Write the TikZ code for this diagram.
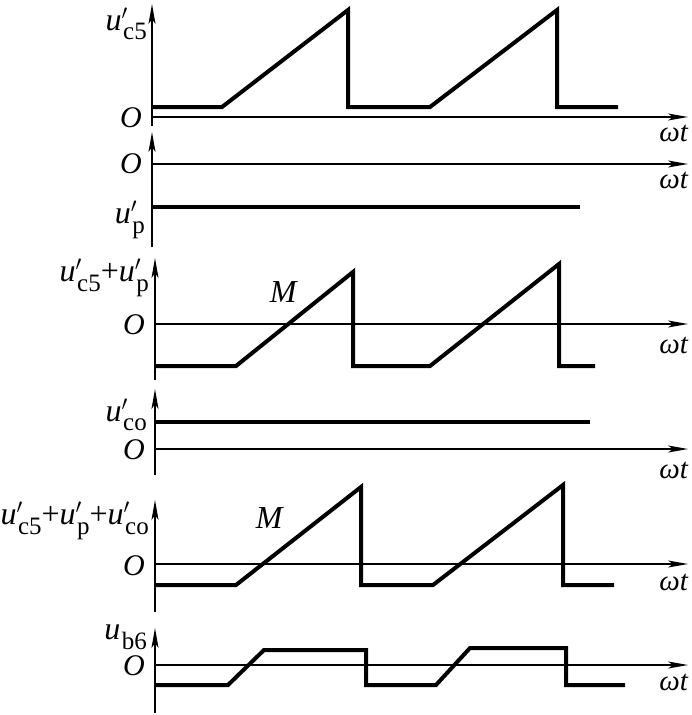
\documentclass[tikz,border=0pt]{standalone}
\usepackage{fontspec}
\setmainfont{Liberation Serif}
\usetikzlibrary{arrows.meta}
\newcommand{\lbl}[3]{\textit{#1}\rlap{#2}\kern1.5pt\raisebox{-0.3em}{\fontsize{25}{25}\selectfont #3}}
\newcommand{\pr}{\raisebox{0.05em}{$^{\prime}$}}
\begin{document}
\begin{tikzpicture}[x=1pt,y=-1pt,
  axis/.style={line width=1.5pt,-{Stealth[length=20pt,width=7pt,inset=5pt]}},
  wave/.style={line width=4pt},
  lab/.style={inner sep=0pt,font=\fontsize{32}{34}\selectfont},
  olab/.style={inner sep=0pt,font=\fontsize{30}{32}\selectfont},
  wlab/.style={inner sep=0pt,font=\fontsize{29}{32}\selectfont},
]
\useasboundingbox (0,0) rectangle (691,715);

% ---------- panel 1 ----------
\draw[axis] (152,126) -- (152,4);
\draw[axis] (152,117) -- (688,117);
\draw[wave] (152,107) -- (222,107) -- (348,10) -- (348,107) -- (430,107) -- (557,10) -- (557,107) -- (618,107);
\node[lab,anchor=east] (l1) at (147,24) {\lbl{u}{\pr}{c5}};
\node[olab,anchor=east] (o1) at (142,118) {\textit{O}};
\node[wlab] (w1) at (674,133) {\textit{ωt}};

% ---------- panel 2 ----------
\draw[axis] (152,247) -- (152,132);
\draw[axis] (152,164) -- (688,164);
\draw[wave] (152,207) -- (580,207);
\node[olab,anchor=east] (o2) at (142,164) {\textit{O}};
\node[lab,anchor=east] (l2) at (145,220) {\lbl{u}{\pr}{p}};
\node[wlab] (w2) at (674,180) {\textit{ωt}};

% ---------- panel 3 ----------
\draw[axis] (155,380) -- (155,258);
\draw[axis] (155,324) -- (688,324);
\draw[wave] (155,366) -- (236,366) -- (353,272) -- (353,366) -- (430,366) -- (559,264) -- (559,366) -- (595,366);
\node[lab,anchor=east] (l3) at (149,278) {\lbl{u}{\pr}{c5}+\lbl{u}{\pr}{p}};
\node[lab] (m3) at (284,292) {\textit{M}};
\node[olab,anchor=east] (o3) at (145,325) {\textit{O}};
\node[wlab] (w3) at (674,345) {\textit{ωt}};

% ---------- panel 4 ----------
\draw[axis] (155,475) -- (155,389);
\draw[wave] (155,422) -- (590,422);
\draw[axis] (155,449) -- (688,449);
\node[lab,anchor=east] (l4) at (147,415) {\lbl{u}{\pr}{co}};
\node[olab,anchor=east] (o4) at (145,450) {\textit{O}};
\node[wlab] (w4) at (674,470) {\textit{ωt}};

% ---------- panel 5 ----------
\draw[axis] (155,612) -- (155,500);
\draw[axis] (155,564) -- (688,564);
\draw[wave] (155,585) -- (236,585) -- (361,487) -- (361,585) -- (433,585) -- (563,485) -- (563,585) -- (614,585);
\node[lab,anchor=east] (l5) at (149,521) {\lbl{u}{\pr}{c5}+\lbl{u}{\pr}{p}+\lbl{u}{\pr}{co}};
\node[lab] (m5) at (270,518) {\textit{M}};
\node[olab,anchor=east] (o5) at (145,566) {\textit{O}};
\node[wlab] (w5) at (674,582) {\textit{ωt}};

% ---------- panel 6 ----------
\draw[axis] (155,713) -- (155,628);
\draw[axis] (155,665) -- (688,665);
\draw[wave] (155,685) -- (228,685) -- (264,650) -- (366,650) -- (366,685) -- (436,685) -- (470,648) -- (566,648) -- (566,685) -- (625,685);
\node[lab,anchor=east] (l6) at (147,637) {\lbl{u}{}{b6}};
\node[olab,anchor=east] (o6) at (145,666) {\textit{O}};
\node[wlab] (w6) at (674,682) {\textit{ωt}};
\end{tikzpicture}
\end{document}
